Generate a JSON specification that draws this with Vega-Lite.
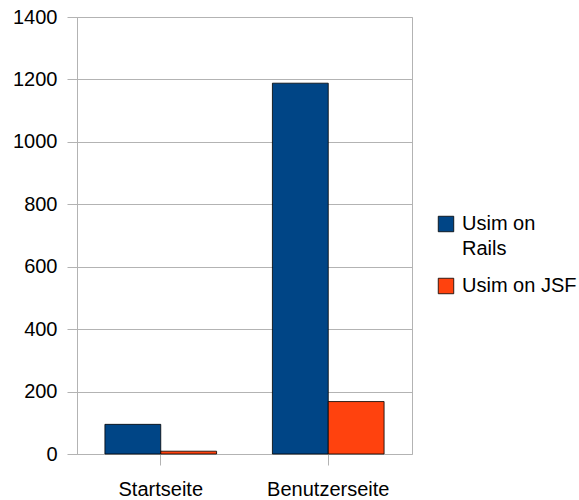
{
  "$schema": "https://vega.github.io/schema/vega-lite/v6.json",
  "width": 335,
  "height": 437,
  "autosize": {"type": "none"},
  "padding": {"left": 77, "top": 17, "right": 167, "bottom": 46},
  "background": "white",
  "config": {
    "font": "Liberation Sans",
    "view": {"stroke": "#b3b3b3", "strokeWidth": 1},
    "axis": {"labelFont": "Liberation Sans", "labelColor": "#000000", "labelFontSize": 20}
  },
  "data": {
    "values": [
      {"page": "Startseite", "series": "Usim on Rails", "value": 95},
      {"page": "Startseite", "series": "Usim on JSF", "value": 9},
      {"page": "Benutzerseite", "series": "Usim on Rails", "value": 1188},
      {"page": "Benutzerseite", "series": "Usim on JSF", "value": 168}
    ]
  },
  "mark": {"type": "bar", "stroke": "#000000", "strokeWidth": 0.8},
  "encoding": {
    "x": {
      "field": "page",
      "type": "nominal",
      "sort": ["Startseite", "Benutzerseite"],
      "scale": {"paddingInner": 0, "paddingOuter": 0},
      "axis": {
        "title": null,
        "labelAngle": 0,
        "domain": false,
        "tickColor": "#b3b3b3",
        "tickSize": 11,
        "labelPadding": 14,
        "labelFontSize": 20
      }
    },
    "xOffset": {
      "field": "series",
      "type": "nominal",
      "sort": ["Usim on Rails", "Usim on JSF"],
      "scale": {"paddingInner": 0, "paddingOuter": 0.5}
    },
    "y": {
      "field": "value",
      "type": "quantitative",
      "scale": {"domain": [0, 1400], "nice": false},
      "axis": {
        "title": null,
        "format": "d",
        "values": [0, 200, 400, 600, 800, 1000, 1200, 1400],
        "gridColor": "#b3b3b3",
        "domainColor": "#b3b3b3",
        "tickColor": "#b3b3b3",
        "tickSize": 10,
        "labelPadding": 10
      }
    },
    "color": {
      "field": "series",
      "type": "nominal",
      "sort": ["Usim on Rails", "Usim on JSF"],
      "scale": {"domain": ["Usim on Rails", "Usim on JSF"], "range": ["#004586", "#ff420e"]},
      "legend": {
        "title": null,
        "orient": "none",
        "legendX": 359,
        "legendY": 197,
        "symbolType": "square",
        "symbolSize": 240,
        "symbolStrokeColor": "#000000",
        "symbolStrokeWidth": 0.8,
        "labelFontSize": 20,
        "labelFont": "Liberation Sans",
        "labelColor": "#000000",
        "labelOffset": 6,
        "labelLimit": 200,
        "rowPadding": 17,
        "labelExpr": "datum.label == 'Usim on Rails' ? ['Usim on', 'Rails'] : datum.label",
        "encode": {"labels": {"update": {"lineHeight": {"value": 25}}}}
      }
    }
  }
}
